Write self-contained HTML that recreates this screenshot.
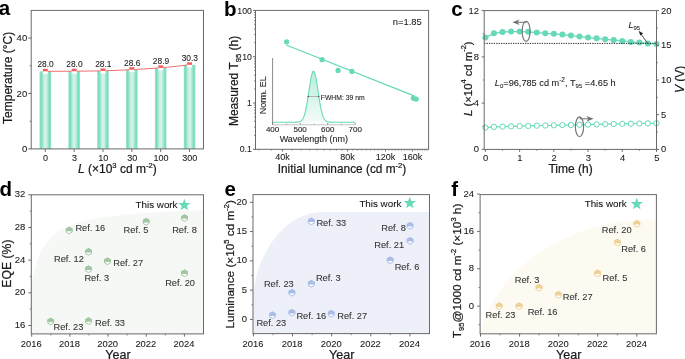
<!DOCTYPE html>
<html><head><meta charset="utf-8"><style>
html,body{margin:0;padding:0;background:#fff;}
svg{display:block;font-family:"Liberation Sans", sans-serif;will-change:transform;}
</style></head><body>
<svg width="685" height="359" viewBox="0 0 685 359">
<rect width="685" height="359" fill="#fff"/>
<defs>
<linearGradient id="barg" x1="0" x2="1" y1="0" y2="0">
<stop offset="0" stop-color="#9fe6d1"/><stop offset="0.13" stop-color="#72dcbb"/>
<stop offset="0.42" stop-color="#cff1e7"/><stop offset="0.58" stop-color="#d3f2ea"/><stop offset="0.88" stop-color="#72dcbb"/><stop offset="1" stop-color="#9fe6d1"/>
</linearGradient>
<linearGradient id="peakg" x1="0" x2="0" y1="0" y2="1">
<stop offset="0" stop-color="#b9ecdc"/><stop offset="1" stop-color="#f4fcf9"/>
</linearGradient>
</defs>
<rect x="39.50" y="71.34" width="11.6" height="77.56" fill="url(#barg)"/>
<rect x="68.35" y="71.20" width="11.6" height="77.70" fill="url(#barg)"/>
<rect x="97.20" y="70.92" width="11.6" height="77.98" fill="url(#barg)"/>
<rect x="126.05" y="69.68" width="11.6" height="79.22" fill="url(#barg)"/>
<rect x="154.90" y="67.88" width="11.6" height="81.02" fill="url(#barg)"/>
<rect x="183.75" y="64.83" width="11.6" height="84.07" fill="url(#barg)"/>
<polyline points="45.30,71.34 74.15,71.20 103.00,70.92 131.85,69.68 160.70,67.88 189.55,64.83" fill="none" stroke="#f07070" stroke-width="1"/>
<rect x="42.80" y="68.84" width="5" height="5" fill="#ffffff"/>
<rect x="42.80" y="68.84" width="5" height="2.5" fill="#f25c5c"/>
<text x="45.60" y="67.44" font-size="8.4" text-anchor="middle" fill="#222" stroke="#222" stroke-width="0.08" font-weight="normal" >28.0</text>
<rect x="71.65" y="68.70" width="5" height="5" fill="#ffffff"/>
<rect x="71.65" y="68.70" width="5" height="2.5" fill="#f25c5c"/>
<text x="74.45" y="67.30" font-size="8.4" text-anchor="middle" fill="#222" stroke="#222" stroke-width="0.08" font-weight="normal" >28.0</text>
<rect x="100.50" y="68.42" width="5" height="5" fill="#ffffff"/>
<rect x="100.50" y="68.42" width="5" height="2.5" fill="#f25c5c"/>
<text x="103.30" y="67.02" font-size="8.4" text-anchor="middle" fill="#222" stroke="#222" stroke-width="0.08" font-weight="normal" >28.1</text>
<rect x="129.35" y="67.18" width="5" height="5" fill="#ffffff"/>
<rect x="129.35" y="67.18" width="5" height="2.5" fill="#f25c5c"/>
<text x="132.15" y="65.78" font-size="8.4" text-anchor="middle" fill="#222" stroke="#222" stroke-width="0.08" font-weight="normal" >28.6</text>
<rect x="158.20" y="65.38" width="5" height="5" fill="#ffffff"/>
<rect x="158.20" y="65.38" width="5" height="2.5" fill="#f25c5c"/>
<text x="161.00" y="63.98" font-size="8.4" text-anchor="middle" fill="#222" stroke="#222" stroke-width="0.08" font-weight="normal" >28.9</text>
<rect x="187.05" y="62.33" width="5" height="5" fill="#ffffff"/>
<rect x="187.05" y="62.33" width="5" height="2.5" fill="#f25c5c"/>
<text x="189.85" y="60.93" font-size="8.4" text-anchor="middle" fill="#222" stroke="#222" stroke-width="0.08" font-weight="normal" >30.3</text>
<rect x="31.20" y="10.40" width="172.30" height="138.50" fill="none" stroke="#6a6a6a" stroke-width="1.0"/>
<line x1="31.20" y1="148.90" x2="28.20" y2="148.90" stroke="#6a6a6a" stroke-width="1.0" />
<line x1="31.20" y1="93.50" x2="28.20" y2="93.50" stroke="#6a6a6a" stroke-width="1.0" />
<line x1="31.20" y1="38.10" x2="28.20" y2="38.10" stroke="#6a6a6a" stroke-width="1.0" />
<line x1="31.20" y1="121.20" x2="29.70" y2="121.20" stroke="#6a6a6a" stroke-width="1.0" />
<line x1="31.20" y1="65.80" x2="29.70" y2="65.80" stroke="#6a6a6a" stroke-width="1.0" />
<line x1="45.30" y1="148.90" x2="45.30" y2="151.90" stroke="#6a6a6a" stroke-width="1.0" />
<line x1="74.15" y1="148.90" x2="74.15" y2="151.90" stroke="#6a6a6a" stroke-width="1.0" />
<line x1="103.00" y1="148.90" x2="103.00" y2="151.90" stroke="#6a6a6a" stroke-width="1.0" />
<line x1="131.85" y1="148.90" x2="131.85" y2="151.90" stroke="#6a6a6a" stroke-width="1.0" />
<line x1="160.70" y1="148.90" x2="160.70" y2="151.90" stroke="#6a6a6a" stroke-width="1.0" />
<line x1="189.55" y1="148.90" x2="189.55" y2="151.90" stroke="#6a6a6a" stroke-width="1.0" />
<text x="27.20" y="152.00" font-size="9.5" text-anchor="end" fill="#1a1a1a" stroke="#1a1a1a" stroke-width="0.08" font-weight="normal" >0</text>
<text x="27.20" y="96.60" font-size="9.5" text-anchor="end" fill="#1a1a1a" stroke="#1a1a1a" stroke-width="0.08" font-weight="normal" >20</text>
<text x="27.20" y="41.20" font-size="9.5" text-anchor="end" fill="#1a1a1a" stroke="#1a1a1a" stroke-width="0.08" font-weight="normal" >40</text>
<text x="45.60" y="161.00" font-size="9" text-anchor="middle" fill="#1a1a1a" stroke="#1a1a1a" stroke-width="0.08" font-weight="normal" >0</text>
<text x="74.45" y="161.00" font-size="9" text-anchor="middle" fill="#1a1a1a" stroke="#1a1a1a" stroke-width="0.08" font-weight="normal" >3</text>
<text x="103.30" y="161.00" font-size="9" text-anchor="middle" fill="#1a1a1a" stroke="#1a1a1a" stroke-width="0.08" font-weight="normal" >10</text>
<text x="132.15" y="161.00" font-size="9" text-anchor="middle" fill="#1a1a1a" stroke="#1a1a1a" stroke-width="0.08" font-weight="normal" >30</text>
<text x="161.00" y="161.00" font-size="9" text-anchor="middle" fill="#1a1a1a" stroke="#1a1a1a" stroke-width="0.08" font-weight="normal" >100</text>
<text x="189.85" y="161.00" font-size="9" text-anchor="middle" fill="#1a1a1a" stroke="#1a1a1a" stroke-width="0.08" font-weight="normal" >300</text>
<text x="12.20" y="77.85" font-size="12" text-anchor="middle" fill="#1a1a1a" stroke="#1a1a1a" stroke-width="0.22" font-weight="normal" transform="rotate(-90 12.2 77.85)">Temperature (°C)</text>
<text x="117.30" y="172.60" font-size="12" text-anchor="middle" fill="#1a1a1a" stroke="#1a1a1a" stroke-width="0.22" font-weight="normal" ><tspan font-style="italic">L</tspan> (×10<tspan font-size="7.6" dy="-5.0">3</tspan><tspan dy="5.0"> cd m</tspan><tspan font-size="7.6" dy="-5.0">-2</tspan><tspan dy="5.0">)</tspan></text>
<rect x="255.50" y="10.40" width="173.10" height="138.90" fill="none" stroke="#6a6a6a" stroke-width="1.0"/>
<line x1="255.50" y1="149.30" x2="253.00" y2="149.30" stroke="#6a6a6a" stroke-width="1.0" />
<line x1="255.50" y1="135.36" x2="254.00" y2="135.36" stroke="#6a6a6a" stroke-width="0.8" />
<line x1="255.50" y1="127.21" x2="254.00" y2="127.21" stroke="#6a6a6a" stroke-width="0.8" />
<line x1="255.50" y1="121.42" x2="254.00" y2="121.42" stroke="#6a6a6a" stroke-width="0.8" />
<line x1="255.50" y1="116.94" x2="254.00" y2="116.94" stroke="#6a6a6a" stroke-width="0.8" />
<line x1="255.50" y1="113.27" x2="254.00" y2="113.27" stroke="#6a6a6a" stroke-width="0.8" />
<line x1="255.50" y1="110.17" x2="254.00" y2="110.17" stroke="#6a6a6a" stroke-width="0.8" />
<line x1="255.50" y1="107.49" x2="254.00" y2="107.49" stroke="#6a6a6a" stroke-width="0.8" />
<line x1="255.50" y1="105.12" x2="254.00" y2="105.12" stroke="#6a6a6a" stroke-width="0.8" />
<line x1="255.50" y1="103.00" x2="253.00" y2="103.00" stroke="#6a6a6a" stroke-width="1.0" />
<line x1="255.50" y1="89.06" x2="254.00" y2="89.06" stroke="#6a6a6a" stroke-width="0.8" />
<line x1="255.50" y1="80.91" x2="254.00" y2="80.91" stroke="#6a6a6a" stroke-width="0.8" />
<line x1="255.50" y1="75.12" x2="254.00" y2="75.12" stroke="#6a6a6a" stroke-width="0.8" />
<line x1="255.50" y1="70.64" x2="254.00" y2="70.64" stroke="#6a6a6a" stroke-width="0.8" />
<line x1="255.50" y1="66.97" x2="254.00" y2="66.97" stroke="#6a6a6a" stroke-width="0.8" />
<line x1="255.50" y1="63.87" x2="254.00" y2="63.87" stroke="#6a6a6a" stroke-width="0.8" />
<line x1="255.50" y1="61.19" x2="254.00" y2="61.19" stroke="#6a6a6a" stroke-width="0.8" />
<line x1="255.50" y1="58.82" x2="254.00" y2="58.82" stroke="#6a6a6a" stroke-width="0.8" />
<line x1="255.50" y1="56.70" x2="253.00" y2="56.70" stroke="#6a6a6a" stroke-width="1.0" />
<line x1="255.50" y1="42.76" x2="254.00" y2="42.76" stroke="#6a6a6a" stroke-width="0.8" />
<line x1="255.50" y1="34.61" x2="254.00" y2="34.61" stroke="#6a6a6a" stroke-width="0.8" />
<line x1="255.50" y1="28.82" x2="254.00" y2="28.82" stroke="#6a6a6a" stroke-width="0.8" />
<line x1="255.50" y1="24.34" x2="254.00" y2="24.34" stroke="#6a6a6a" stroke-width="0.8" />
<line x1="255.50" y1="20.67" x2="254.00" y2="20.67" stroke="#6a6a6a" stroke-width="0.8" />
<line x1="255.50" y1="17.57" x2="254.00" y2="17.57" stroke="#6a6a6a" stroke-width="0.8" />
<line x1="255.50" y1="14.89" x2="254.00" y2="14.89" stroke="#6a6a6a" stroke-width="0.8" />
<line x1="255.50" y1="12.52" x2="254.00" y2="12.52" stroke="#6a6a6a" stroke-width="0.8" />
<line x1="255.50" y1="10.40" x2="253.00" y2="10.40" stroke="#6a6a6a" stroke-width="1.0" />
<text x="251.80" y="152.40" font-size="8.7" text-anchor="end" fill="#1a1a1a" stroke="#1a1a1a" stroke-width="0.08" font-weight="normal" >0.1</text>
<text x="251.80" y="106.10" font-size="8.7" text-anchor="end" fill="#1a1a1a" stroke="#1a1a1a" stroke-width="0.08" font-weight="normal" >1</text>
<text x="251.80" y="59.80" font-size="8.7" text-anchor="end" fill="#1a1a1a" stroke="#1a1a1a" stroke-width="0.08" font-weight="normal" >10</text>
<text x="251.80" y="13.50" font-size="8.7" text-anchor="end" fill="#1a1a1a" stroke="#1a1a1a" stroke-width="0.08" font-weight="normal" >100</text>
<line x1="258.82" y1="149.30" x2="258.82" y2="150.60" stroke="#6a6a6a" stroke-width="0.8" />
<line x1="271.35" y1="149.30" x2="271.35" y2="150.60" stroke="#6a6a6a" stroke-width="0.8" />
<line x1="292.28" y1="149.30" x2="292.28" y2="150.60" stroke="#6a6a6a" stroke-width="0.8" />
<line x1="301.22" y1="149.30" x2="301.22" y2="150.60" stroke="#6a6a6a" stroke-width="0.8" />
<line x1="309.39" y1="149.30" x2="309.39" y2="150.60" stroke="#6a6a6a" stroke-width="0.8" />
<line x1="316.90" y1="149.30" x2="316.90" y2="150.60" stroke="#6a6a6a" stroke-width="0.8" />
<line x1="323.85" y1="149.30" x2="323.85" y2="150.60" stroke="#6a6a6a" stroke-width="0.8" />
<line x1="330.32" y1="149.30" x2="330.32" y2="150.60" stroke="#6a6a6a" stroke-width="0.8" />
<line x1="336.37" y1="149.30" x2="336.37" y2="150.60" stroke="#6a6a6a" stroke-width="0.8" />
<line x1="342.06" y1="149.30" x2="342.06" y2="150.60" stroke="#6a6a6a" stroke-width="0.8" />
<line x1="352.49" y1="149.30" x2="352.49" y2="150.60" stroke="#6a6a6a" stroke-width="0.8" />
<line x1="357.31" y1="149.30" x2="357.31" y2="150.60" stroke="#6a6a6a" stroke-width="0.8" />
<line x1="361.88" y1="149.30" x2="361.88" y2="150.60" stroke="#6a6a6a" stroke-width="0.8" />
<line x1="366.25" y1="149.30" x2="366.25" y2="150.60" stroke="#6a6a6a" stroke-width="0.8" />
<line x1="370.42" y1="149.30" x2="370.42" y2="150.60" stroke="#6a6a6a" stroke-width="0.8" />
<line x1="374.41" y1="149.30" x2="374.41" y2="150.60" stroke="#6a6a6a" stroke-width="0.8" />
<line x1="378.24" y1="149.30" x2="378.24" y2="150.60" stroke="#6a6a6a" stroke-width="0.8" />
<line x1="381.92" y1="149.30" x2="381.92" y2="150.60" stroke="#6a6a6a" stroke-width="0.8" />
<line x1="388.87" y1="149.30" x2="388.87" y2="150.60" stroke="#6a6a6a" stroke-width="0.8" />
<line x1="392.16" y1="149.30" x2="392.16" y2="150.60" stroke="#6a6a6a" stroke-width="0.8" />
<line x1="395.34" y1="149.30" x2="395.34" y2="150.60" stroke="#6a6a6a" stroke-width="0.8" />
<line x1="398.42" y1="149.30" x2="398.42" y2="150.60" stroke="#6a6a6a" stroke-width="0.8" />
<line x1="401.40" y1="149.30" x2="401.40" y2="150.60" stroke="#6a6a6a" stroke-width="0.8" />
<line x1="404.28" y1="149.30" x2="404.28" y2="150.60" stroke="#6a6a6a" stroke-width="0.8" />
<line x1="407.08" y1="149.30" x2="407.08" y2="150.60" stroke="#6a6a6a" stroke-width="0.8" />
<line x1="409.80" y1="149.30" x2="409.80" y2="150.60" stroke="#6a6a6a" stroke-width="0.8" />
<line x1="415.02" y1="149.30" x2="415.02" y2="150.60" stroke="#6a6a6a" stroke-width="0.8" />
<line x1="417.52" y1="149.30" x2="417.52" y2="150.60" stroke="#6a6a6a" stroke-width="0.8" />
<line x1="419.95" y1="149.30" x2="419.95" y2="150.60" stroke="#6a6a6a" stroke-width="0.8" />
<line x1="422.33" y1="149.30" x2="422.33" y2="150.60" stroke="#6a6a6a" stroke-width="0.8" />
<line x1="424.64" y1="149.30" x2="424.64" y2="150.60" stroke="#6a6a6a" stroke-width="0.8" />
<line x1="426.91" y1="149.30" x2="426.91" y2="150.60" stroke="#6a6a6a" stroke-width="0.8" />
<line x1="282.40" y1="149.30" x2="282.40" y2="151.50" stroke="#6a6a6a" stroke-width="1.0" />
<text x="282.40" y="159.70" font-size="9" text-anchor="middle" fill="#1a1a1a" stroke="#1a1a1a" stroke-width="0.08" font-weight="normal" >40k</text>
<line x1="347.42" y1="149.30" x2="347.42" y2="151.50" stroke="#6a6a6a" stroke-width="1.0" />
<text x="347.42" y="159.70" font-size="9" text-anchor="middle" fill="#1a1a1a" stroke="#1a1a1a" stroke-width="0.08" font-weight="normal" >80k</text>
<line x1="385.46" y1="149.30" x2="385.46" y2="151.50" stroke="#6a6a6a" stroke-width="1.0" />
<text x="385.46" y="159.70" font-size="9" text-anchor="middle" fill="#1a1a1a" stroke="#1a1a1a" stroke-width="0.08" font-weight="normal" >120k</text>
<line x1="412.44" y1="149.30" x2="412.44" y2="151.50" stroke="#6a6a6a" stroke-width="1.0" />
<text x="412.44" y="159.70" font-size="9" text-anchor="middle" fill="#1a1a1a" stroke="#1a1a1a" stroke-width="0.08" font-weight="normal" >160k</text>
<text x="238.20" y="80.95" font-size="12" text-anchor="middle" fill="#1a1a1a" stroke="#1a1a1a" stroke-width="0.22" font-weight="normal" transform="rotate(-90 238.2 80.95)">Measured T<tspan font-size="7.6" dy="2.5">95</tspan><tspan dy="-2.5"> (h)</tspan></text>
<text x="342.00" y="172.90" font-size="11.85" text-anchor="middle" fill="#1a1a1a" stroke="#1a1a1a" stroke-width="0.22" font-weight="normal" >Initial luminance (cd m<tspan font-size="7.6" dy="-5.0">-2</tspan><tspan dy="5.0">)</tspan></text>
<text x="421.80" y="24.50" font-size="9.4" text-anchor="end" fill="#1a1a1a" stroke="#1a1a1a" stroke-width="0.08" font-weight="normal" >n=1.85</text>
<line x1="286.20" y1="45.00" x2="414.10" y2="95.90" stroke="#66d9b8" stroke-width="1.3" />
<circle cx="286.6" cy="41.8" r="2.6" fill="#66d9b8"/>
<circle cx="322.1" cy="59.7" r="2.6" fill="#66d9b8"/>
<circle cx="338.1" cy="70.4" r="2.6" fill="#66d9b8"/>
<circle cx="351.9" cy="71.4" r="2.6" fill="#66d9b8"/>
<circle cx="413.4" cy="98.2" r="2.6" fill="#66d9b8"/>
<circle cx="416.2" cy="99.1" r="2.6" fill="#66d9b8"/>
<path d="M272.60,122.20 L272.88,122.20 L273.15,122.20 L273.43,122.20 L273.70,122.20 L273.98,122.20 L274.25,122.20 L274.53,122.20 L274.80,122.20 L275.08,122.20 L275.35,122.20 L275.63,122.20 L275.90,122.20 L276.18,122.20 L276.45,122.20 L276.73,122.20 L277.01,122.20 L277.28,122.20 L277.56,122.20 L277.83,122.20 L278.11,122.20 L278.38,122.20 L278.66,122.20 L278.93,122.20 L279.21,122.20 L279.48,122.20 L279.76,122.20 L280.03,122.20 L280.31,122.20 L280.58,122.20 L280.86,122.20 L281.14,122.20 L281.41,122.20 L281.69,122.20 L281.96,122.20 L282.24,122.20 L282.51,122.20 L282.79,122.20 L283.06,122.20 L283.34,122.20 L283.61,122.20 L283.89,122.20 L284.16,122.20 L284.44,122.20 L284.71,122.20 L284.99,122.20 L285.27,122.20 L285.54,122.20 L285.82,122.20 L286.09,122.20 L286.37,122.20 L286.64,122.20 L286.92,122.20 L287.19,122.20 L287.47,122.20 L287.74,122.20 L288.02,122.20 L288.29,122.20 L288.57,122.20 L288.84,122.20 L289.12,122.20 L289.40,122.20 L289.67,122.20 L289.95,122.20 L290.22,122.20 L290.50,122.20 L290.77,122.20 L291.05,122.20 L291.32,122.20 L291.60,122.20 L291.87,122.20 L292.15,122.20 L292.42,122.20 L292.70,122.20 L292.97,122.20 L293.25,122.20 L293.53,122.20 L293.80,122.19 L294.08,122.19 L294.35,122.19 L294.63,122.19 L294.90,122.19 L295.18,122.18 L295.45,122.18 L295.73,122.17 L296.00,122.16 L296.28,122.15 L296.55,122.14 L296.83,122.13 L297.10,122.11 L297.38,122.09 L297.66,122.06 L297.93,122.03 L298.21,122.00 L298.48,121.95 L298.76,121.90 L299.03,121.83 L299.31,121.76 L299.58,121.67 L299.86,121.57 L300.13,121.45 L300.41,121.31 L300.68,121.14 L300.96,120.95 L301.23,120.73 L301.51,120.48 L301.79,120.20 L302.06,119.87 L302.34,119.50 L302.61,119.09 L302.89,118.62 L303.16,118.10 L303.44,117.52 L303.71,116.88 L303.99,116.16 L304.26,115.38 L304.54,114.53 L304.81,113.59 L305.09,112.58 L305.36,111.49 L305.64,110.32 L305.92,109.07 L306.19,107.73 L306.47,106.32 L306.74,104.83 L307.02,103.27 L307.29,101.65 L307.57,99.96 L307.84,98.22 L308.12,96.44 L308.39,94.63 L308.67,92.79 L308.94,90.95 L309.22,89.10 L309.49,87.27 L309.77,85.48 L310.05,83.73 L310.32,82.04 L310.60,80.42 L310.87,78.90 L311.15,77.48 L311.42,76.18 L311.70,75.01 L311.97,73.98 L312.25,73.11 L312.52,72.40 L312.80,71.87 L313.07,71.50 L313.35,71.32 L313.62,71.32 L313.90,71.50 L314.18,71.87 L314.45,72.40 L314.73,73.11 L315.00,73.98 L315.28,75.01 L315.55,76.18 L315.83,77.48 L316.10,78.90 L316.38,80.42 L316.65,82.04 L316.93,83.73 L317.20,85.48 L317.48,87.27 L317.75,89.10 L318.03,90.95 L318.31,92.79 L318.58,94.63 L318.86,96.44 L319.13,98.22 L319.41,99.96 L319.68,101.65 L319.96,103.27 L320.23,104.83 L320.51,106.32 L320.78,107.73 L321.06,109.07 L321.33,110.32 L321.61,111.49 L321.88,112.58 L322.16,113.59 L322.44,114.53 L322.71,115.38 L322.99,116.16 L323.26,116.88 L323.54,117.52 L323.81,118.10 L324.09,118.62 L324.36,119.09 L324.64,119.50 L324.91,119.87 L325.19,120.20 L325.46,120.48 L325.74,120.73 L326.01,120.95 L326.29,121.14 L326.57,121.31 L326.84,121.45 L327.12,121.57 L327.39,121.67 L327.67,121.76 L327.94,121.83 L328.22,121.90 L328.49,121.95 L328.77,122.00 L329.04,122.03 L329.32,122.06 L329.59,122.09 L329.87,122.11 L330.14,122.13 L330.42,122.14 L330.70,122.15 L330.97,122.16 L331.25,122.17 L331.52,122.18 L331.80,122.18 L332.07,122.19 L332.35,122.19 L332.62,122.19 L332.90,122.19 L333.17,122.19 L333.45,122.20 L333.72,122.20 L334.00,122.20 L334.27,122.20 L334.55,122.20 L334.83,122.20 L335.10,122.20 L335.38,122.20 L335.65,122.20 L335.93,122.20 L336.20,122.20 L336.48,122.20 L336.75,122.20 L337.03,122.20 L337.30,122.20 L337.58,122.20 L337.85,122.20 L338.13,122.20 L338.40,122.20 L338.68,122.20 L338.96,122.20 L339.23,122.20 L339.51,122.20 L339.78,122.20 L340.06,122.20 L340.33,122.20 L340.61,122.20 L340.88,122.20 L341.16,122.20 L341.43,122.20 L341.71,122.20 L341.98,122.20 L342.26,122.20 L342.53,122.20 L342.81,122.20 L343.09,122.20 L343.36,122.20 L343.64,122.20 L343.91,122.20 L344.19,122.20 L344.46,122.20 L344.74,122.20 L345.01,122.20 L345.29,122.20 L345.56,122.20 L345.84,122.20 L346.11,122.20 L346.39,122.20 L346.66,122.20 L346.94,122.20 L347.22,122.20 L347.49,122.20 L347.77,122.20 L348.04,122.20 L348.32,122.20 L348.59,122.20 L348.87,122.20 L349.14,122.20 L349.42,122.20 L349.69,122.20 L349.97,122.20 L350.24,122.20 L350.52,122.20 L350.79,122.20 L351.07,122.20 L351.35,122.20 L351.62,122.20 L351.90,122.20 L352.17,122.20 L352.45,122.20 L352.72,122.20 L353.00,122.20 L353.27,122.20 L353.55,122.20 L353.82,122.20 L354.10,122.20 L354.37,122.20 L354.65,122.20 L354.92,122.20 L355.20,122.20 L355.20,122.2 L272.60,122.2 Z" fill="url(#peakg)" stroke="none"/>
<polyline points="272.60,122.20 272.88,122.20 273.15,122.20 273.43,122.20 273.70,122.20 273.98,122.20 274.25,122.20 274.53,122.20 274.80,122.20 275.08,122.20 275.35,122.20 275.63,122.20 275.90,122.20 276.18,122.20 276.45,122.20 276.73,122.20 277.01,122.20 277.28,122.20 277.56,122.20 277.83,122.20 278.11,122.20 278.38,122.20 278.66,122.20 278.93,122.20 279.21,122.20 279.48,122.20 279.76,122.20 280.03,122.20 280.31,122.20 280.58,122.20 280.86,122.20 281.14,122.20 281.41,122.20 281.69,122.20 281.96,122.20 282.24,122.20 282.51,122.20 282.79,122.20 283.06,122.20 283.34,122.20 283.61,122.20 283.89,122.20 284.16,122.20 284.44,122.20 284.71,122.20 284.99,122.20 285.27,122.20 285.54,122.20 285.82,122.20 286.09,122.20 286.37,122.20 286.64,122.20 286.92,122.20 287.19,122.20 287.47,122.20 287.74,122.20 288.02,122.20 288.29,122.20 288.57,122.20 288.84,122.20 289.12,122.20 289.40,122.20 289.67,122.20 289.95,122.20 290.22,122.20 290.50,122.20 290.77,122.20 291.05,122.20 291.32,122.20 291.60,122.20 291.87,122.20 292.15,122.20 292.42,122.20 292.70,122.20 292.97,122.20 293.25,122.20 293.53,122.20 293.80,122.19 294.08,122.19 294.35,122.19 294.63,122.19 294.90,122.19 295.18,122.18 295.45,122.18 295.73,122.17 296.00,122.16 296.28,122.15 296.55,122.14 296.83,122.13 297.10,122.11 297.38,122.09 297.66,122.06 297.93,122.03 298.21,122.00 298.48,121.95 298.76,121.90 299.03,121.83 299.31,121.76 299.58,121.67 299.86,121.57 300.13,121.45 300.41,121.31 300.68,121.14 300.96,120.95 301.23,120.73 301.51,120.48 301.79,120.20 302.06,119.87 302.34,119.50 302.61,119.09 302.89,118.62 303.16,118.10 303.44,117.52 303.71,116.88 303.99,116.16 304.26,115.38 304.54,114.53 304.81,113.59 305.09,112.58 305.36,111.49 305.64,110.32 305.92,109.07 306.19,107.73 306.47,106.32 306.74,104.83 307.02,103.27 307.29,101.65 307.57,99.96 307.84,98.22 308.12,96.44 308.39,94.63 308.67,92.79 308.94,90.95 309.22,89.10 309.49,87.27 309.77,85.48 310.05,83.73 310.32,82.04 310.60,80.42 310.87,78.90 311.15,77.48 311.42,76.18 311.70,75.01 311.97,73.98 312.25,73.11 312.52,72.40 312.80,71.87 313.07,71.50 313.35,71.32 313.62,71.32 313.90,71.50 314.18,71.87 314.45,72.40 314.73,73.11 315.00,73.98 315.28,75.01 315.55,76.18 315.83,77.48 316.10,78.90 316.38,80.42 316.65,82.04 316.93,83.73 317.20,85.48 317.48,87.27 317.75,89.10 318.03,90.95 318.31,92.79 318.58,94.63 318.86,96.44 319.13,98.22 319.41,99.96 319.68,101.65 319.96,103.27 320.23,104.83 320.51,106.32 320.78,107.73 321.06,109.07 321.33,110.32 321.61,111.49 321.88,112.58 322.16,113.59 322.44,114.53 322.71,115.38 322.99,116.16 323.26,116.88 323.54,117.52 323.81,118.10 324.09,118.62 324.36,119.09 324.64,119.50 324.91,119.87 325.19,120.20 325.46,120.48 325.74,120.73 326.01,120.95 326.29,121.14 326.57,121.31 326.84,121.45 327.12,121.57 327.39,121.67 327.67,121.76 327.94,121.83 328.22,121.90 328.49,121.95 328.77,122.00 329.04,122.03 329.32,122.06 329.59,122.09 329.87,122.11 330.14,122.13 330.42,122.14 330.70,122.15 330.97,122.16 331.25,122.17 331.52,122.18 331.80,122.18 332.07,122.19 332.35,122.19 332.62,122.19 332.90,122.19 333.17,122.19 333.45,122.20 333.72,122.20 334.00,122.20 334.27,122.20 334.55,122.20 334.83,122.20 335.10,122.20 335.38,122.20 335.65,122.20 335.93,122.20 336.20,122.20 336.48,122.20 336.75,122.20 337.03,122.20 337.30,122.20 337.58,122.20 337.85,122.20 338.13,122.20 338.40,122.20 338.68,122.20 338.96,122.20 339.23,122.20 339.51,122.20 339.78,122.20 340.06,122.20 340.33,122.20 340.61,122.20 340.88,122.20 341.16,122.20 341.43,122.20 341.71,122.20 341.98,122.20 342.26,122.20 342.53,122.20 342.81,122.20 343.09,122.20 343.36,122.20 343.64,122.20 343.91,122.20 344.19,122.20 344.46,122.20 344.74,122.20 345.01,122.20 345.29,122.20 345.56,122.20 345.84,122.20 346.11,122.20 346.39,122.20 346.66,122.20 346.94,122.20 347.22,122.20 347.49,122.20 347.77,122.20 348.04,122.20 348.32,122.20 348.59,122.20 348.87,122.20 349.14,122.20 349.42,122.20 349.69,122.20 349.97,122.20 350.24,122.20 350.52,122.20 350.79,122.20 351.07,122.20 351.35,122.20 351.62,122.20 351.90,122.20 352.17,122.20 352.45,122.20 352.72,122.20 353.00,122.20 353.27,122.20 353.55,122.20 353.82,122.20 354.10,122.20 354.37,122.20 354.65,122.20 354.92,122.20 355.20,122.20" fill="none" stroke="#66d9b8" stroke-width="1.1"/>
<line x1="272.60" y1="58.00" x2="272.60" y2="124.90" stroke="#8a8a8a" stroke-width="1.0" />
<line x1="272.60" y1="124.80" x2="355.20" y2="124.80" stroke="#c4c4c4" stroke-width="1.0" />
<line x1="272.60" y1="124.50" x2="272.60" y2="123.00" stroke="#6a6a6a" stroke-width="0.8" />
<text x="272.60" y="131.90" font-size="8" text-anchor="middle" fill="#1a1a1a" stroke="#1a1a1a" stroke-width="0.08" font-weight="normal" >400</text>
<line x1="300.13" y1="124.50" x2="300.13" y2="123.00" stroke="#6a6a6a" stroke-width="0.8" />
<text x="300.13" y="131.90" font-size="8" text-anchor="middle" fill="#1a1a1a" stroke="#1a1a1a" stroke-width="0.08" font-weight="normal" >500</text>
<line x1="327.67" y1="124.50" x2="327.67" y2="123.00" stroke="#6a6a6a" stroke-width="0.8" />
<text x="327.67" y="131.90" font-size="8" text-anchor="middle" fill="#1a1a1a" stroke="#1a1a1a" stroke-width="0.08" font-weight="normal" >600</text>
<line x1="355.20" y1="124.50" x2="355.20" y2="123.00" stroke="#6a6a6a" stroke-width="0.8" />
<text x="355.20" y="131.90" font-size="8" text-anchor="middle" fill="#1a1a1a" stroke="#1a1a1a" stroke-width="0.08" font-weight="normal" >700</text>
<line x1="286.37" y1="124.50" x2="286.37" y2="123.50" stroke="#6a6a6a" stroke-width="0.6" />
<line x1="313.90" y1="124.50" x2="313.90" y2="123.50" stroke="#6a6a6a" stroke-width="0.6" />
<line x1="341.43" y1="124.50" x2="341.43" y2="123.50" stroke="#6a6a6a" stroke-width="0.6" />
<text x="313.80" y="142.00" font-size="9" text-anchor="middle" fill="#1a1a1a" stroke="#1a1a1a" stroke-width="0.08" font-weight="normal" >Wavelength (nm)</text>
<text x="266.20" y="95.30" font-size="9" text-anchor="middle" fill="#1a1a1a" stroke="#1a1a1a" stroke-width="0.08" font-weight="normal" transform="rotate(-90 266.2 95.3)">Norm. EL</text>
<line x1="308.00" y1="96.50" x2="318.90" y2="96.50" stroke="#8a8a8a" stroke-width="0.6" />
<circle cx="308.3" cy="96.5" r="0.8" fill="#555"/><circle cx="318.6" cy="96.5" r="0.8" fill="#555"/>
<text x="320.80" y="99.80" font-size="6.8" text-anchor="start" fill="#222" stroke="#222" stroke-width="0.08" font-weight="normal" >FWHM: 39 nm</text>
<polyline points="485.40,37.60 493.95,33.30 502.51,32.10 511.06,31.60 519.62,31.60 528.17,31.80 536.73,32.60 545.28,33.30 553.84,33.80 562.39,34.60 570.95,35.60 579.50,36.60 588.06,37.60 596.62,38.30 605.17,39.30 613.73,40.10 622.28,40.90 630.84,41.90 639.39,42.60 647.94,43.40 656.50,44.10" fill="none" stroke="#66d9b8" stroke-width="1.3"/>
<polyline points="485.40,127.60 493.95,126.90 502.51,126.60 511.06,126.30 519.62,126.10 528.17,125.90 536.73,125.70 545.28,125.50 553.84,125.30 562.39,125.10 570.95,125.00 579.50,124.80 588.06,124.60 596.62,124.40 605.17,124.20 613.73,124.00 622.28,123.80 630.84,123.70 639.39,123.50 647.94,123.40 656.50,123.30" fill="none" stroke="#66d9b8" stroke-width="1.2"/>
<circle cx="485.40" cy="37.60" r="3.0" fill="#66d9b8"/>
<circle cx="493.95" cy="33.30" r="3.0" fill="#66d9b8"/>
<circle cx="502.51" cy="32.10" r="3.0" fill="#66d9b8"/>
<circle cx="511.06" cy="31.60" r="3.0" fill="#66d9b8"/>
<circle cx="519.62" cy="31.60" r="3.0" fill="#66d9b8"/>
<circle cx="528.17" cy="31.80" r="3.0" fill="#66d9b8"/>
<circle cx="536.73" cy="32.60" r="3.0" fill="#66d9b8"/>
<circle cx="545.28" cy="33.30" r="3.0" fill="#66d9b8"/>
<circle cx="553.84" cy="33.80" r="3.0" fill="#66d9b8"/>
<circle cx="562.39" cy="34.60" r="3.0" fill="#66d9b8"/>
<circle cx="570.95" cy="35.60" r="3.0" fill="#66d9b8"/>
<circle cx="579.50" cy="36.60" r="3.0" fill="#66d9b8"/>
<circle cx="588.06" cy="37.60" r="3.0" fill="#66d9b8"/>
<circle cx="596.62" cy="38.30" r="3.0" fill="#66d9b8"/>
<circle cx="605.17" cy="39.30" r="3.0" fill="#66d9b8"/>
<circle cx="613.73" cy="40.10" r="3.0" fill="#66d9b8"/>
<circle cx="622.28" cy="40.90" r="3.0" fill="#66d9b8"/>
<circle cx="630.84" cy="41.90" r="3.0" fill="#66d9b8"/>
<circle cx="639.39" cy="42.60" r="3.0" fill="#66d9b8"/>
<circle cx="647.94" cy="43.40" r="3.0" fill="#66d9b8"/>
<circle cx="656.50" cy="44.10" r="3.0" fill="#66d9b8"/>
<circle cx="485.40" cy="127.60" r="2.65" fill="#fff" stroke="#66d9b8" stroke-width="1.0"/>
<circle cx="493.95" cy="126.90" r="2.65" fill="#fff" stroke="#66d9b8" stroke-width="1.0"/>
<circle cx="502.51" cy="126.60" r="2.65" fill="#fff" stroke="#66d9b8" stroke-width="1.0"/>
<circle cx="511.06" cy="126.30" r="2.65" fill="#fff" stroke="#66d9b8" stroke-width="1.0"/>
<circle cx="519.62" cy="126.10" r="2.65" fill="#fff" stroke="#66d9b8" stroke-width="1.0"/>
<circle cx="528.17" cy="125.90" r="2.65" fill="#fff" stroke="#66d9b8" stroke-width="1.0"/>
<circle cx="536.73" cy="125.70" r="2.65" fill="#fff" stroke="#66d9b8" stroke-width="1.0"/>
<circle cx="545.28" cy="125.50" r="2.65" fill="#fff" stroke="#66d9b8" stroke-width="1.0"/>
<circle cx="553.84" cy="125.30" r="2.65" fill="#fff" stroke="#66d9b8" stroke-width="1.0"/>
<circle cx="562.39" cy="125.10" r="2.65" fill="#fff" stroke="#66d9b8" stroke-width="1.0"/>
<circle cx="570.95" cy="125.00" r="2.65" fill="#fff" stroke="#66d9b8" stroke-width="1.0"/>
<circle cx="579.50" cy="124.80" r="2.65" fill="#fff" stroke="#66d9b8" stroke-width="1.0"/>
<circle cx="588.06" cy="124.60" r="2.65" fill="#fff" stroke="#66d9b8" stroke-width="1.0"/>
<circle cx="596.62" cy="124.40" r="2.65" fill="#fff" stroke="#66d9b8" stroke-width="1.0"/>
<circle cx="605.17" cy="124.20" r="2.65" fill="#fff" stroke="#66d9b8" stroke-width="1.0"/>
<circle cx="613.73" cy="124.00" r="2.65" fill="#fff" stroke="#66d9b8" stroke-width="1.0"/>
<circle cx="622.28" cy="123.80" r="2.65" fill="#fff" stroke="#66d9b8" stroke-width="1.0"/>
<circle cx="630.84" cy="123.70" r="2.65" fill="#fff" stroke="#66d9b8" stroke-width="1.0"/>
<circle cx="639.39" cy="123.50" r="2.65" fill="#fff" stroke="#66d9b8" stroke-width="1.0"/>
<circle cx="647.94" cy="123.40" r="2.65" fill="#fff" stroke="#66d9b8" stroke-width="1.0"/>
<circle cx="656.50" cy="123.30" r="2.65" fill="#fff" stroke="#66d9b8" stroke-width="1.0"/>
<line x1="484.2" y1="43.4" x2="656.5" y2="43.4" stroke="#2a2a2a" stroke-width="1.0" stroke-dasharray="1.3,1.1"/>
<rect x="484.20" y="10.60" width="172.30" height="138.80" fill="none" stroke="#6a6a6a" stroke-width="1.0"/>
<line x1="484.20" y1="149.40" x2="481.70" y2="149.40" stroke="#6a6a6a" stroke-width="1.0" />
<text x="478.90" y="152.30" font-size="9.4" text-anchor="end" fill="#1a1a1a" stroke="#1a1a1a" stroke-width="0.08" font-weight="normal" >0</text>
<line x1="484.20" y1="103.13" x2="481.70" y2="103.13" stroke="#6a6a6a" stroke-width="1.0" />
<text x="478.90" y="106.03" font-size="9.4" text-anchor="end" fill="#1a1a1a" stroke="#1a1a1a" stroke-width="0.08" font-weight="normal" >4</text>
<line x1="484.20" y1="56.87" x2="481.70" y2="56.87" stroke="#6a6a6a" stroke-width="1.0" />
<text x="478.90" y="59.77" font-size="9.4" text-anchor="end" fill="#1a1a1a" stroke="#1a1a1a" stroke-width="0.08" font-weight="normal" >8</text>
<line x1="484.20" y1="10.60" x2="481.70" y2="10.60" stroke="#6a6a6a" stroke-width="1.0" />
<text x="478.90" y="13.50" font-size="9.4" text-anchor="end" fill="#1a1a1a" stroke="#1a1a1a" stroke-width="0.08" font-weight="normal" >12</text>
<line x1="484.20" y1="126.27" x2="482.70" y2="126.27" stroke="#6a6a6a" stroke-width="0.8" />
<line x1="484.20" y1="80.00" x2="482.70" y2="80.00" stroke="#6a6a6a" stroke-width="0.8" />
<line x1="484.20" y1="33.73" x2="482.70" y2="33.73" stroke="#6a6a6a" stroke-width="0.8" />
<line x1="656.50" y1="149.40" x2="659.00" y2="149.40" stroke="#6a6a6a" stroke-width="1.0" />
<text x="661.00" y="152.30" font-size="9.4" text-anchor="start" fill="#1a1a1a" stroke="#1a1a1a" stroke-width="0.08" font-weight="normal" >0</text>
<line x1="656.50" y1="114.70" x2="659.00" y2="114.70" stroke="#6a6a6a" stroke-width="1.0" />
<text x="661.00" y="117.60" font-size="9.4" text-anchor="start" fill="#1a1a1a" stroke="#1a1a1a" stroke-width="0.08" font-weight="normal" >5</text>
<line x1="656.50" y1="80.00" x2="659.00" y2="80.00" stroke="#6a6a6a" stroke-width="1.0" />
<text x="661.00" y="82.90" font-size="9.4" text-anchor="start" fill="#1a1a1a" stroke="#1a1a1a" stroke-width="0.08" font-weight="normal" >10</text>
<line x1="656.50" y1="45.30" x2="659.00" y2="45.30" stroke="#6a6a6a" stroke-width="1.0" />
<text x="661.00" y="48.20" font-size="9.4" text-anchor="start" fill="#1a1a1a" stroke="#1a1a1a" stroke-width="0.08" font-weight="normal" >15</text>
<line x1="656.50" y1="10.60" x2="659.00" y2="10.60" stroke="#6a6a6a" stroke-width="1.0" />
<text x="661.00" y="13.50" font-size="9.4" text-anchor="start" fill="#1a1a1a" stroke="#1a1a1a" stroke-width="0.08" font-weight="normal" >20</text>
<line x1="656.50" y1="132.05" x2="658.00" y2="132.05" stroke="#6a6a6a" stroke-width="0.8" />
<line x1="656.50" y1="97.35" x2="658.00" y2="97.35" stroke="#6a6a6a" stroke-width="0.8" />
<line x1="656.50" y1="62.65" x2="658.00" y2="62.65" stroke="#6a6a6a" stroke-width="0.8" />
<line x1="656.50" y1="27.95" x2="658.00" y2="27.95" stroke="#6a6a6a" stroke-width="0.8" />
<line x1="485.40" y1="149.40" x2="485.40" y2="151.90" stroke="#6a6a6a" stroke-width="1.0" />
<text x="485.70" y="161.20" font-size="9.4" text-anchor="middle" fill="#1a1a1a" stroke="#1a1a1a" stroke-width="0.08" font-weight="normal" >0</text>
<line x1="519.62" y1="149.40" x2="519.62" y2="151.90" stroke="#6a6a6a" stroke-width="1.0" />
<text x="519.92" y="161.20" font-size="9.4" text-anchor="middle" fill="#1a1a1a" stroke="#1a1a1a" stroke-width="0.08" font-weight="normal" >1</text>
<line x1="553.84" y1="149.40" x2="553.84" y2="151.90" stroke="#6a6a6a" stroke-width="1.0" />
<text x="554.14" y="161.20" font-size="9.4" text-anchor="middle" fill="#1a1a1a" stroke="#1a1a1a" stroke-width="0.08" font-weight="normal" >2</text>
<line x1="588.06" y1="149.40" x2="588.06" y2="151.90" stroke="#6a6a6a" stroke-width="1.0" />
<text x="588.36" y="161.20" font-size="9.4" text-anchor="middle" fill="#1a1a1a" stroke="#1a1a1a" stroke-width="0.08" font-weight="normal" >3</text>
<line x1="622.28" y1="149.40" x2="622.28" y2="151.90" stroke="#6a6a6a" stroke-width="1.0" />
<text x="622.58" y="161.20" font-size="9.4" text-anchor="middle" fill="#1a1a1a" stroke="#1a1a1a" stroke-width="0.08" font-weight="normal" >4</text>
<line x1="656.50" y1="149.40" x2="656.50" y2="151.90" stroke="#6a6a6a" stroke-width="1.0" />
<text x="656.80" y="161.20" font-size="9.4" text-anchor="middle" fill="#1a1a1a" stroke="#1a1a1a" stroke-width="0.08" font-weight="normal" >5</text>
<line x1="502.51" y1="149.40" x2="502.51" y2="150.80" stroke="#6a6a6a" stroke-width="0.8" />
<line x1="536.73" y1="149.40" x2="536.73" y2="150.80" stroke="#6a6a6a" stroke-width="0.8" />
<line x1="570.95" y1="149.40" x2="570.95" y2="150.80" stroke="#6a6a6a" stroke-width="0.8" />
<line x1="605.17" y1="149.40" x2="605.17" y2="150.80" stroke="#6a6a6a" stroke-width="0.8" />
<line x1="639.39" y1="149.40" x2="639.39" y2="150.80" stroke="#6a6a6a" stroke-width="0.8" />
<text x="570.60" y="172.60" font-size="12" text-anchor="middle" fill="#1a1a1a" stroke="#1a1a1a" stroke-width="0.22" font-weight="normal" >Time (h)</text>
<text x="471.80" y="78.70" font-size="11.3" text-anchor="middle" fill="#1a1a1a" stroke="#1a1a1a" stroke-width="0.22" font-weight="normal" transform="rotate(-90 471.8 78.7)"><tspan font-style="italic">L</tspan> (×10<tspan font-size="7.4" dy="-5.6">4</tspan><tspan dy="5.6"> cd m</tspan><tspan font-size="7.4" dy="-5.6">-2</tspan><tspan dy="5.6">)</tspan></text>
<text x="683.60" y="79.30" font-size="12" text-anchor="middle" fill="#1a1a1a" stroke="#1a1a1a" stroke-width="0.22" font-weight="normal" transform="rotate(-90 683.6 79.3)"><tspan font-style="italic">V</tspan> (V)</text>
<text x="494.80" y="85.60" font-size="9.2" text-anchor="start" fill="#1a1a1a" stroke="#1a1a1a" stroke-width="0.08" font-weight="normal" ><tspan font-style="italic">L</tspan><tspan font-size="6" dy="2.4">0</tspan><tspan dy="-2.4">=96,785 cd m</tspan><tspan font-size="6.5" dy="-3.5">-2</tspan><tspan dy="3.5">, T</tspan><tspan font-size="6" dy="2.4">95</tspan><tspan dy="-2.4"> =4.65 h</tspan></text>
<ellipse cx="526.1" cy="31.3" rx="4.0" ry="10.1" fill="none" stroke="#707070" stroke-width="1.1"/>
<line x1="526.4" y1="22.3" x2="516" y2="22.3" stroke="#707070" stroke-width="1"/><path d="M512.4,22.3 L519.5,19.6 L517.6,22.3 L519.5,25.0 Z" fill="#707070"/>
<ellipse cx="579.5" cy="126.8" rx="4.1" ry="9.9" fill="none" stroke="#707070" stroke-width="1.1"/>
<line x1="579.5" y1="118.8" x2="590" y2="118.8" stroke="#707070" stroke-width="1"/><path d="M593.6,118.8 L586.5,116.1 L588.4,118.8 L586.5,121.5 Z" fill="#707070"/>
<text x="628.50" y="27.80" font-size="9" text-anchor="start" fill="#1a1a1a" stroke="#1a1a1a" stroke-width="0.08" font-weight="normal" ><tspan font-style="italic">L</tspan><tspan font-size="6" dy="2.4">95</tspan></text>
<line x1="647.5" y1="43.2" x2="640.5" y2="33.5" stroke="#222" stroke-width="0.8"/><path d="M638.6,30.8 L643.2,33.6 L640.4,35.6 Z" fill="#222"/>
<path d="M31.30,284.66 L31.33,284.48 L31.41,284.05 L31.53,283.39 L31.68,282.56 L31.86,281.55 L32.08,280.41 L32.33,279.14 L32.62,277.77 L32.93,276.31 L33.27,274.78 L33.63,273.20 L34.03,271.57 L34.45,269.91 L34.90,268.24 L35.38,266.56 L35.88,264.87 L36.41,263.20 L36.96,261.54 L37.54,259.91 L38.14,258.30 L38.77,256.72 L39.43,255.17 L40.10,253.66 L40.80,252.19 L41.53,250.76 L42.28,249.37 L43.05,248.02 L43.84,246.71 L44.66,245.44 L45.50,244.21 L46.36,243.02 L47.25,241.88 L48.16,240.77 L49.09,239.70 L50.04,238.67 L51.02,237.68 L52.01,236.72 L53.03,235.79 L54.07,234.90 L55.13,234.04 L56.22,233.21 L57.32,232.41 L58.45,231.64 L59.60,230.89 L60.76,230.18 L61.95,229.49 L63.16,228.82 L64.39,228.18 L65.64,227.56 L66.92,226.96 L68.21,226.38 L69.52,225.83 L70.86,225.29 L72.21,224.77 L73.58,224.27 L74.98,223.78 L76.39,223.32 L77.82,222.86 L79.28,222.43 L80.75,222.00 L82.24,221.59 L83.76,221.20 L85.29,220.82 L86.84,220.45 L88.42,220.09 L90.01,219.74 L91.62,219.40 L93.25,219.08 L94.90,218.76 L96.57,218.46 L98.25,218.16 L99.96,217.87 L101.69,217.59 L103.43,217.32 L105.20,217.06 L106.98,216.80 L108.78,216.55 L110.60,216.31 L112.44,216.08 L114.30,215.85 L116.18,215.63 L118.07,215.42 L119.98,215.21 L121.92,215.00 L123.87,214.81 L125.84,214.62 L127.83,214.43 L129.83,214.25 L131.86,214.07 L133.90,213.90 L135.96,213.73 L138.04,213.56 L140.14,213.40 L142.25,213.25 L144.39,213.10 L146.54,212.95 L148.71,212.80 L150.90,212.66 L153.10,212.53 L155.32,212.39 L157.57,212.26 L159.82,212.13 L162.10,212.01 L164.40,211.89 L166.71,211.77 L169.04,211.65 L171.39,211.54 L173.75,211.43 L176.14,211.32 L178.54,211.22 L180.95,211.11 L183.39,211.01 L185.84,210.91 L188.31,210.81 L190.80,210.72 L193.31,210.63 L195.83,210.54 L198.37,210.45 L200.93,210.36 L203.50,210.28 L203.50,333.90 L31.30,333.90 Z" fill="#f5f8f4"/>
<rect x="31.30" y="194.80" width="172.20" height="139.10" fill="none" stroke="#6a6a6a" stroke-width="1.0"/>
<line x1="31.70" y1="333.90" x2="31.70" y2="336.70" stroke="#6a6a6a" stroke-width="1.0" />
<text x="31.30" y="346.60" font-size="9.4" text-anchor="middle" fill="#1a1a1a" stroke="#1a1a1a" stroke-width="0.08" font-weight="normal" >2016</text>
<line x1="69.88" y1="333.90" x2="69.88" y2="336.70" stroke="#6a6a6a" stroke-width="1.0" />
<text x="69.48" y="346.60" font-size="9.4" text-anchor="middle" fill="#1a1a1a" stroke="#1a1a1a" stroke-width="0.08" font-weight="normal" >2018</text>
<line x1="108.06" y1="333.90" x2="108.06" y2="336.70" stroke="#6a6a6a" stroke-width="1.0" />
<text x="107.66" y="346.60" font-size="9.4" text-anchor="middle" fill="#1a1a1a" stroke="#1a1a1a" stroke-width="0.08" font-weight="normal" >2020</text>
<line x1="146.23" y1="333.90" x2="146.23" y2="336.70" stroke="#6a6a6a" stroke-width="1.0" />
<text x="145.83" y="346.60" font-size="9.4" text-anchor="middle" fill="#1a1a1a" stroke="#1a1a1a" stroke-width="0.08" font-weight="normal" >2022</text>
<line x1="184.41" y1="333.90" x2="184.41" y2="336.70" stroke="#6a6a6a" stroke-width="1.0" />
<text x="184.01" y="346.60" font-size="9.4" text-anchor="middle" fill="#1a1a1a" stroke="#1a1a1a" stroke-width="0.08" font-weight="normal" >2024</text>
<line x1="50.79" y1="333.90" x2="50.79" y2="335.50" stroke="#6a6a6a" stroke-width="0.8" />
<line x1="88.97" y1="333.90" x2="88.97" y2="335.50" stroke="#6a6a6a" stroke-width="0.8" />
<line x1="127.14" y1="333.90" x2="127.14" y2="335.50" stroke="#6a6a6a" stroke-width="0.8" />
<line x1="165.32" y1="333.90" x2="165.32" y2="335.50" stroke="#6a6a6a" stroke-width="0.8" />
<line x1="31.30" y1="325.50" x2="28.30" y2="325.50" stroke="#6a6a6a" stroke-width="1.0" />
<text x="25.30" y="328.00" font-size="9.5" text-anchor="end" fill="#1a1a1a" stroke="#1a1a1a" stroke-width="0.08" font-weight="normal" >16</text>
<line x1="31.30" y1="292.82" x2="28.30" y2="292.82" stroke="#6a6a6a" stroke-width="1.0" />
<text x="25.30" y="295.32" font-size="9.5" text-anchor="end" fill="#1a1a1a" stroke="#1a1a1a" stroke-width="0.08" font-weight="normal" >20</text>
<line x1="31.30" y1="260.15" x2="28.30" y2="260.15" stroke="#6a6a6a" stroke-width="1.0" />
<text x="25.30" y="262.65" font-size="9.5" text-anchor="end" fill="#1a1a1a" stroke="#1a1a1a" stroke-width="0.08" font-weight="normal" >24</text>
<line x1="31.30" y1="227.48" x2="28.30" y2="227.48" stroke="#6a6a6a" stroke-width="1.0" />
<text x="25.30" y="229.98" font-size="9.5" text-anchor="end" fill="#1a1a1a" stroke="#1a1a1a" stroke-width="0.08" font-weight="normal" >28</text>
<line x1="31.30" y1="194.80" x2="28.30" y2="194.80" stroke="#6a6a6a" stroke-width="1.0" />
<text x="25.30" y="197.30" font-size="9.5" text-anchor="end" fill="#1a1a1a" stroke="#1a1a1a" stroke-width="0.08" font-weight="normal" >32</text>
<line x1="31.30" y1="309.16" x2="29.70" y2="309.16" stroke="#6a6a6a" stroke-width="0.8" />
<line x1="31.30" y1="276.49" x2="29.70" y2="276.49" stroke="#6a6a6a" stroke-width="0.8" />
<line x1="31.30" y1="243.81" x2="29.70" y2="243.81" stroke="#6a6a6a" stroke-width="0.8" />
<line x1="31.30" y1="211.14" x2="29.70" y2="211.14" stroke="#6a6a6a" stroke-width="0.8" />
<polygon points="69.20,227.20 72.06,228.85 72.06,232.15 69.20,233.80 66.34,232.15 66.34,228.85" fill="#fff" stroke="#a3c6a4" stroke-width="1.0"/>
<path d="M65.84,231.20 L65.84,228.56 L69.20,226.70 L72.56,228.56 L72.56,231.20 Z" fill="#a3c6a4"/>
<polygon points="146.20,218.50 149.06,220.15 149.06,223.45 146.20,225.10 143.34,223.45 143.34,220.15" fill="#fff" stroke="#a3c6a4" stroke-width="1.0"/>
<path d="M142.84,222.50 L142.84,219.86 L146.20,218.00 L149.56,219.86 L149.56,222.50 Z" fill="#a3c6a4"/>
<polygon points="184.50,214.80 187.36,216.45 187.36,219.75 184.50,221.40 181.64,219.75 181.64,216.45" fill="#fff" stroke="#a3c6a4" stroke-width="1.0"/>
<path d="M181.14,218.80 L181.14,216.16 L184.50,214.30 L187.86,216.16 L187.86,218.80 Z" fill="#a3c6a4"/>
<polygon points="88.50,248.60 91.36,250.25 91.36,253.55 88.50,255.20 85.64,253.55 85.64,250.25" fill="#fff" stroke="#a3c6a4" stroke-width="1.0"/>
<path d="M85.14,252.60 L85.14,249.96 L88.50,248.10 L91.86,249.96 L91.86,252.60 Z" fill="#a3c6a4"/>
<polygon points="107.50,258.00 110.36,259.65 110.36,262.95 107.50,264.60 104.64,262.95 104.64,259.65" fill="#fff" stroke="#a3c6a4" stroke-width="1.0"/>
<path d="M104.14,262.00 L104.14,259.36 L107.50,257.50 L110.86,259.36 L110.86,262.00 Z" fill="#a3c6a4"/>
<polygon points="88.50,265.90 91.36,267.55 91.36,270.85 88.50,272.50 85.64,270.85 85.64,267.55" fill="#fff" stroke="#a3c6a4" stroke-width="1.0"/>
<path d="M85.14,269.90 L85.14,267.26 L88.50,265.40 L91.86,267.26 L91.86,269.90 Z" fill="#a3c6a4"/>
<polygon points="184.50,270.00 187.36,271.65 187.36,274.95 184.50,276.60 181.64,274.95 181.64,271.65" fill="#fff" stroke="#a3c6a4" stroke-width="1.0"/>
<path d="M181.14,274.00 L181.14,271.36 L184.50,269.50 L187.86,271.36 L187.86,274.00 Z" fill="#a3c6a4"/>
<polygon points="50.70,318.20 53.56,319.85 53.56,323.15 50.70,324.80 47.84,323.15 47.84,319.85" fill="#fff" stroke="#a3c6a4" stroke-width="1.0"/>
<path d="M47.34,322.20 L47.34,319.56 L50.70,317.70 L54.06,319.56 L54.06,322.20 Z" fill="#a3c6a4"/>
<polygon points="88.50,317.80 91.36,319.45 91.36,322.75 88.50,324.40 85.64,322.75 85.64,319.45" fill="#fff" stroke="#a3c6a4" stroke-width="1.0"/>
<path d="M85.14,321.80 L85.14,319.16 L88.50,317.30 L91.86,319.16 L91.86,321.80 Z" fill="#a3c6a4"/>
<text x="75.40" y="230.65" font-size="9.25" text-anchor="start" fill="#333" stroke="#333" stroke-width="0.08" font-weight="normal" >Ref. 16</text>
<text x="123.60" y="233.15" font-size="9.25" text-anchor="start" fill="#333" stroke="#333" stroke-width="0.08" font-weight="normal" >Ref. 5</text>
<text x="172.20" y="233.15" font-size="9.25" text-anchor="start" fill="#333" stroke="#333" stroke-width="0.08" font-weight="normal" >Ref. 8</text>
<text x="54.00" y="261.55" font-size="9.25" text-anchor="start" fill="#333" stroke="#333" stroke-width="0.08" font-weight="normal" >Ref. 12</text>
<text x="113.30" y="265.65" font-size="9.25" text-anchor="start" fill="#333" stroke="#333" stroke-width="0.08" font-weight="normal" >Ref. 27</text>
<text x="84.40" y="280.85" font-size="9.25" text-anchor="start" fill="#333" stroke="#333" stroke-width="0.08" font-weight="normal" >Ref. 3</text>
<text x="165.20" y="285.55" font-size="9.25" text-anchor="start" fill="#333" stroke="#333" stroke-width="0.08" font-weight="normal" >Ref. 20</text>
<text x="53.50" y="329.85" font-size="9.25" text-anchor="start" fill="#333" stroke="#333" stroke-width="0.08" font-weight="normal" >Ref. 23</text>
<text x="95.10" y="325.75" font-size="9.25" text-anchor="start" fill="#333" stroke="#333" stroke-width="0.08" font-weight="normal" >Ref. 33</text>
<polygon points="184.30,198.70 185.89,202.92 190.39,203.12 186.87,205.93 188.06,210.28 184.30,207.80 180.54,210.28 181.73,205.93 178.21,203.12 182.71,202.92" fill="#66d9b8"/>
<text x="135.60" y="207.90" font-size="9.8" text-anchor="start" fill="#111" stroke="#111" stroke-width="0.08" font-weight="normal" >This work</text>
<text x="117.90" y="358.80" font-size="12.6" text-anchor="middle" fill="#1a1a1a" stroke="#1a1a1a" stroke-width="0.22" font-weight="normal" >Year</text>
<text x="11.20" y="263.60" font-size="12.2" text-anchor="middle" fill="#1a1a1a" stroke="#1a1a1a" stroke-width="0.22" font-weight="normal" transform="rotate(-90 11.2 263.6)">EQE (%)</text>
<path d="M253.00,333.60 L253.00,293.86 L253.08,293.20 L253.25,291.93 L253.48,290.33 L253.76,288.54 L254.09,286.63 L254.46,284.66 L254.87,282.66 L255.32,280.64 L255.80,278.63 L256.31,276.62 L256.86,274.62 L257.43,272.65 L258.04,270.70 L258.67,268.77 L259.34,266.86 L260.03,264.98 L260.74,263.14 L261.48,261.31 L262.25,259.52 L263.04,257.76 L263.85,256.02 L264.69,254.31 L265.56,252.64 L266.44,250.99 L267.35,249.37 L268.28,247.79 L269.23,246.23 L270.20,244.70 L271.19,243.20 L272.21,241.74 L273.24,240.30 L274.30,238.90 L275.37,237.52 L276.47,236.18 L277.58,234.87 L278.71,233.59 L279.86,232.34 L281.04,231.13 L282.23,229.95 L283.43,228.80 L284.66,227.68 L285.90,226.60 L287.17,225.55 L288.45,224.53 L289.74,223.55 L291.06,222.61 L292.39,221.70 L293.74,220.82 L295.11,219.99 L296.49,219.19 L297.89,218.42 L299.31,217.70 L300.74,217.01 L302.19,216.37 L303.66,215.76 L305.14,215.19 L306.64,214.67 L308.15,214.19 L309.68,213.75 L311.22,213.35 L312.78,213.00 L314.36,212.69 L315.95,212.44 L317.56,212.23 L319.18,212.06 L320.81,211.95 L322.47,211.89 L324.13,211.88 L325.81,211.88 L327.51,211.88 L329.22,211.88 L330.94,211.88 L332.68,211.88 L334.44,211.88 L336.21,211.88 L337.99,211.88 L339.78,211.88 L341.59,211.88 L343.42,211.88 L345.26,211.88 L347.11,211.88 L348.97,211.88 L350.85,211.88 L352.75,211.88 L354.65,211.88 L356.57,211.88 L358.51,211.88 L360.46,211.88 L362.42,211.88 L364.39,211.88 L366.38,211.88 L368.38,211.88 L370.39,211.88 L372.42,211.88 L374.45,211.88 L376.51,211.88 L378.57,211.88 L380.65,211.88 L382.74,211.88 L384.84,211.88 L386.96,211.88 L389.09,211.88 L391.23,211.88 L393.38,211.88 L395.55,211.88 L397.73,211.88 L399.92,211.88 L402.12,211.88 L404.33,211.88 L406.56,211.88 L408.80,211.88 L411.05,211.88 L413.32,211.88 L415.59,211.88 L417.88,211.88 L420.18,211.88 L422.49,211.88 L424.82,211.88 L427.15,211.88 L429.50,211.88 L429.50,333.60 L253.00,333.60 Z" fill="#edf0f9"/>
<rect x="253.00" y="194.60" width="176.50" height="139.00" fill="none" stroke="#6a6a6a" stroke-width="1.0"/>
<line x1="253.40" y1="333.60" x2="253.40" y2="336.40" stroke="#6a6a6a" stroke-width="1.0" />
<text x="253.00" y="346.60" font-size="9.4" text-anchor="middle" fill="#1a1a1a" stroke="#1a1a1a" stroke-width="0.08" font-weight="normal" >2016</text>
<line x1="292.53" y1="333.60" x2="292.53" y2="336.40" stroke="#6a6a6a" stroke-width="1.0" />
<text x="292.13" y="346.60" font-size="9.4" text-anchor="middle" fill="#1a1a1a" stroke="#1a1a1a" stroke-width="0.08" font-weight="normal" >2018</text>
<line x1="331.67" y1="333.60" x2="331.67" y2="336.40" stroke="#6a6a6a" stroke-width="1.0" />
<text x="331.27" y="346.60" font-size="9.4" text-anchor="middle" fill="#1a1a1a" stroke="#1a1a1a" stroke-width="0.08" font-weight="normal" >2020</text>
<line x1="370.80" y1="333.60" x2="370.80" y2="336.40" stroke="#6a6a6a" stroke-width="1.0" />
<text x="370.40" y="346.60" font-size="9.4" text-anchor="middle" fill="#1a1a1a" stroke="#1a1a1a" stroke-width="0.08" font-weight="normal" >2022</text>
<line x1="409.93" y1="333.60" x2="409.93" y2="336.40" stroke="#6a6a6a" stroke-width="1.0" />
<text x="409.53" y="346.60" font-size="9.4" text-anchor="middle" fill="#1a1a1a" stroke="#1a1a1a" stroke-width="0.08" font-weight="normal" >2024</text>
<line x1="272.97" y1="333.60" x2="272.97" y2="335.20" stroke="#6a6a6a" stroke-width="0.8" />
<line x1="312.10" y1="333.60" x2="312.10" y2="335.20" stroke="#6a6a6a" stroke-width="0.8" />
<line x1="351.23" y1="333.60" x2="351.23" y2="335.20" stroke="#6a6a6a" stroke-width="0.8" />
<line x1="390.37" y1="333.60" x2="390.37" y2="335.20" stroke="#6a6a6a" stroke-width="0.8" />
<line x1="253.00" y1="319.40" x2="250.00" y2="319.40" stroke="#6a6a6a" stroke-width="1.0" />
<text x="247.00" y="321.90" font-size="9.5" text-anchor="end" fill="#1a1a1a" stroke="#1a1a1a" stroke-width="0.08" font-weight="normal" >0</text>
<line x1="253.00" y1="290.12" x2="250.00" y2="290.12" stroke="#6a6a6a" stroke-width="1.0" />
<text x="247.00" y="292.62" font-size="9.5" text-anchor="end" fill="#1a1a1a" stroke="#1a1a1a" stroke-width="0.08" font-weight="normal" >5</text>
<line x1="253.00" y1="260.85" x2="250.00" y2="260.85" stroke="#6a6a6a" stroke-width="1.0" />
<text x="247.00" y="263.35" font-size="9.5" text-anchor="end" fill="#1a1a1a" stroke="#1a1a1a" stroke-width="0.08" font-weight="normal" >10</text>
<line x1="253.00" y1="231.57" x2="250.00" y2="231.57" stroke="#6a6a6a" stroke-width="1.0" />
<text x="247.00" y="234.07" font-size="9.5" text-anchor="end" fill="#1a1a1a" stroke="#1a1a1a" stroke-width="0.08" font-weight="normal" >15</text>
<line x1="253.00" y1="202.30" x2="250.00" y2="202.30" stroke="#6a6a6a" stroke-width="1.0" />
<text x="247.00" y="204.80" font-size="9.5" text-anchor="end" fill="#1a1a1a" stroke="#1a1a1a" stroke-width="0.08" font-weight="normal" >20</text>
<line x1="253.00" y1="304.76" x2="251.40" y2="304.76" stroke="#6a6a6a" stroke-width="0.8" />
<line x1="253.00" y1="275.49" x2="251.40" y2="275.49" stroke="#6a6a6a" stroke-width="0.8" />
<line x1="253.00" y1="246.21" x2="251.40" y2="246.21" stroke="#6a6a6a" stroke-width="0.8" />
<line x1="253.00" y1="216.94" x2="251.40" y2="216.94" stroke="#6a6a6a" stroke-width="0.8" />
<polygon points="311.30,218.10 314.16,219.75 314.16,223.05 311.30,224.70 308.44,223.05 308.44,219.75" fill="#fff" stroke="#a9bde6" stroke-width="1.0"/>
<path d="M307.94,222.10 L307.94,219.46 L311.30,217.60 L314.66,219.46 L314.66,222.10 Z" fill="#a9bde6"/>
<polygon points="410.10,222.60 412.96,224.25 412.96,227.55 410.10,229.20 407.24,227.55 407.24,224.25" fill="#fff" stroke="#a9bde6" stroke-width="1.0"/>
<path d="M406.74,226.60 L406.74,223.96 L410.10,222.10 L413.46,223.96 L413.46,226.60 Z" fill="#a9bde6"/>
<polygon points="410.10,237.60 412.96,239.25 412.96,242.55 410.10,244.20 407.24,242.55 407.24,239.25" fill="#fff" stroke="#a9bde6" stroke-width="1.0"/>
<path d="M406.74,241.60 L406.74,238.96 L410.10,237.10 L413.46,238.96 L413.46,241.60 Z" fill="#a9bde6"/>
<polygon points="390.20,257.00 393.06,258.65 393.06,261.95 390.20,263.60 387.34,261.95 387.34,258.65" fill="#fff" stroke="#a9bde6" stroke-width="1.0"/>
<path d="M386.84,261.00 L386.84,258.36 L390.20,256.50 L393.56,258.36 L393.56,261.00 Z" fill="#a9bde6"/>
<polygon points="311.30,280.50 314.16,282.15 314.16,285.45 311.30,287.10 308.44,285.45 308.44,282.15" fill="#fff" stroke="#a9bde6" stroke-width="1.0"/>
<path d="M307.94,284.50 L307.94,281.86 L311.30,280.00 L314.66,281.86 L314.66,284.50 Z" fill="#a9bde6"/>
<polygon points="291.90,289.50 294.76,291.15 294.76,294.45 291.90,296.10 289.04,294.45 289.04,291.15" fill="#fff" stroke="#a9bde6" stroke-width="1.0"/>
<path d="M288.54,293.50 L288.54,290.86 L291.90,289.00 L295.26,290.86 L295.26,293.50 Z" fill="#a9bde6"/>
<polygon points="272.40,311.90 275.26,313.55 275.26,316.85 272.40,318.50 269.54,316.85 269.54,313.55" fill="#fff" stroke="#a9bde6" stroke-width="1.0"/>
<path d="M269.04,315.90 L269.04,313.26 L272.40,311.40 L275.76,313.26 L275.76,315.90 Z" fill="#a9bde6"/>
<polygon points="291.90,309.40 294.76,311.05 294.76,314.35 291.90,316.00 289.04,314.35 289.04,311.05" fill="#fff" stroke="#a9bde6" stroke-width="1.0"/>
<path d="M288.54,313.40 L288.54,310.76 L291.90,308.90 L295.26,310.76 L295.26,313.40 Z" fill="#a9bde6"/>
<polygon points="331.30,310.40 334.16,312.05 334.16,315.35 331.30,317.00 328.44,315.35 328.44,312.05" fill="#fff" stroke="#a9bde6" stroke-width="1.0"/>
<path d="M327.94,314.40 L327.94,311.76 L331.30,309.90 L334.66,311.76 L334.66,314.40 Z" fill="#a9bde6"/>
<text x="316.40" y="226.15" font-size="9.25" text-anchor="start" fill="#333" stroke="#333" stroke-width="0.08" font-weight="normal" >Ref. 33</text>
<text x="381.30" y="231.15" font-size="9.25" text-anchor="start" fill="#333" stroke="#333" stroke-width="0.08" font-weight="normal" >Ref. 8</text>
<text x="374.30" y="247.65" font-size="9.25" text-anchor="start" fill="#333" stroke="#333" stroke-width="0.08" font-weight="normal" >Ref. 21</text>
<text x="394.70" y="270.05" font-size="9.25" text-anchor="start" fill="#333" stroke="#333" stroke-width="0.08" font-weight="normal" >Ref. 6</text>
<text x="315.90" y="280.55" font-size="9.25" text-anchor="start" fill="#333" stroke="#333" stroke-width="0.08" font-weight="normal" >Ref. 3</text>
<text x="263.90" y="287.05" font-size="9.25" text-anchor="start" fill="#333" stroke="#333" stroke-width="0.08" font-weight="normal" >Ref. 23</text>
<text x="256.40" y="326.45" font-size="9.25" text-anchor="start" fill="#333" stroke="#333" stroke-width="0.08" font-weight="normal" >Ref. 23</text>
<text x="296.40" y="318.95" font-size="9.25" text-anchor="start" fill="#333" stroke="#333" stroke-width="0.08" font-weight="normal" >Ref. 16</text>
<text x="337.30" y="318.95" font-size="9.25" text-anchor="start" fill="#333" stroke="#333" stroke-width="0.08" font-weight="normal" >Ref. 27</text>
<polygon points="409.75,196.70 411.34,200.92 415.84,201.12 412.32,203.93 413.51,208.28 409.75,205.80 405.99,208.28 407.18,203.93 403.66,201.12 408.16,200.92" fill="#66d9b8"/>
<text x="359.40" y="206.60" font-size="9.8" text-anchor="start" fill="#111" stroke="#111" stroke-width="0.08" font-weight="normal" >This work</text>
<text x="341.75" y="358.80" font-size="12.6" text-anchor="middle" fill="#1a1a1a" stroke="#1a1a1a" stroke-width="0.22" font-weight="normal" >Year</text>
<text x="234.00" y="264.30" font-size="11.8" text-anchor="middle" fill="#1a1a1a" stroke="#1a1a1a" stroke-width="0.22" font-weight="normal" transform="rotate(-90 234 264.3)">Luminance (×10<tspan font-size="7.5" dy="-5.0">5</tspan><tspan dy="5.0"> cd m</tspan><tspan font-size="7.5" dy="-5.0">-2</tspan><tspan dy="5.0">)</tspan></text>
<path d="M480.10,332.84 L480.18,332.52 L480.35,331.89 L480.58,331.04 L480.86,330.04 L481.19,328.91 L481.56,327.69 L481.97,326.38 L482.41,325.02 L482.89,323.61 L483.41,322.16 L483.95,320.68 L484.53,319.17 L485.13,317.65 L485.77,316.12 L486.43,314.58 L487.12,313.03 L487.83,311.48 L488.57,309.93 L489.34,308.38 L490.13,306.84 L490.94,305.29 L491.78,303.76 L492.64,302.23 L493.52,300.71 L494.43,299.19 L495.36,297.69 L496.31,296.19 L497.28,294.71 L498.27,293.23 L499.28,291.76 L500.32,290.31 L501.37,288.87 L502.45,287.43 L503.54,286.01 L504.65,284.60 L505.78,283.21 L506.93,281.82 L508.10,280.45 L509.29,279.09 L510.50,277.74 L511.72,276.41 L512.97,275.08 L514.23,273.78 L515.51,272.48 L516.80,271.20 L518.12,269.93 L519.45,268.67 L520.80,267.42 L522.16,266.19 L523.54,264.98 L524.94,263.77 L526.36,262.59 L527.79,261.41 L529.24,260.25 L530.70,259.10 L532.18,257.96 L533.67,256.84 L535.19,255.74 L536.71,254.65 L538.26,253.57 L539.82,252.51 L541.39,251.46 L542.98,250.42 L544.58,249.40 L546.20,248.40 L547.84,247.41 L549.49,246.43 L551.15,245.47 L552.83,244.53 L554.53,243.60 L556.23,242.68 L557.96,241.78 L559.69,240.90 L561.45,240.03 L563.21,239.17 L564.99,238.34 L566.79,237.52 L568.59,236.71 L570.42,235.92 L572.25,235.15 L574.10,234.39 L575.97,233.65 L577.84,232.93 L579.73,232.22 L581.64,231.53 L583.56,230.86 L585.49,230.20 L587.43,229.56 L589.39,228.94 L591.36,228.34 L593.35,227.76 L595.35,227.19 L597.36,226.64 L599.38,226.11 L601.42,225.60 L603.47,225.10 L605.53,224.63 L607.60,224.17 L609.69,223.73 L611.79,223.32 L613.91,222.92 L616.03,222.54 L618.17,222.19 L620.32,221.85 L622.49,221.53 L624.66,221.24 L626.85,220.96 L629.05,220.71 L631.26,220.48 L633.49,220.27 L635.72,220.08 L637.97,219.91 L640.24,219.77 L642.51,219.65 L644.79,219.56 L647.09,219.48 L649.40,219.44 L651.72,219.41 L654.06,219.41 L656.40,219.41 L656.40,333.80 L480.10,333.80 Z" fill="#fdfaf2"/>
<rect x="480.10" y="194.60" width="176.30" height="139.20" fill="none" stroke="#6a6a6a" stroke-width="1.0"/>
<line x1="480.50" y1="333.80" x2="480.50" y2="336.60" stroke="#6a6a6a" stroke-width="1.0" />
<text x="480.10" y="346.60" font-size="9.4" text-anchor="middle" fill="#1a1a1a" stroke="#1a1a1a" stroke-width="0.08" font-weight="normal" >2016</text>
<line x1="519.59" y1="333.80" x2="519.59" y2="336.60" stroke="#6a6a6a" stroke-width="1.0" />
<text x="519.19" y="346.60" font-size="9.4" text-anchor="middle" fill="#1a1a1a" stroke="#1a1a1a" stroke-width="0.08" font-weight="normal" >2018</text>
<line x1="558.68" y1="333.80" x2="558.68" y2="336.60" stroke="#6a6a6a" stroke-width="1.0" />
<text x="558.28" y="346.60" font-size="9.4" text-anchor="middle" fill="#1a1a1a" stroke="#1a1a1a" stroke-width="0.08" font-weight="normal" >2020</text>
<line x1="597.77" y1="333.80" x2="597.77" y2="336.60" stroke="#6a6a6a" stroke-width="1.0" />
<text x="597.37" y="346.60" font-size="9.4" text-anchor="middle" fill="#1a1a1a" stroke="#1a1a1a" stroke-width="0.08" font-weight="normal" >2022</text>
<line x1="636.86" y1="333.80" x2="636.86" y2="336.60" stroke="#6a6a6a" stroke-width="1.0" />
<text x="636.46" y="346.60" font-size="9.4" text-anchor="middle" fill="#1a1a1a" stroke="#1a1a1a" stroke-width="0.08" font-weight="normal" >2024</text>
<line x1="500.04" y1="333.80" x2="500.04" y2="335.40" stroke="#6a6a6a" stroke-width="0.8" />
<line x1="539.13" y1="333.80" x2="539.13" y2="335.40" stroke="#6a6a6a" stroke-width="0.8" />
<line x1="578.22" y1="333.80" x2="578.22" y2="335.40" stroke="#6a6a6a" stroke-width="0.8" />
<line x1="617.31" y1="333.80" x2="617.31" y2="335.40" stroke="#6a6a6a" stroke-width="0.8" />
<line x1="480.10" y1="306.10" x2="477.10" y2="306.10" stroke="#6a6a6a" stroke-width="1.0" />
<text x="474.10" y="308.60" font-size="9.5" text-anchor="end" fill="#1a1a1a" stroke="#1a1a1a" stroke-width="0.08" font-weight="normal" >0</text>
<line x1="480.10" y1="268.75" x2="477.10" y2="268.75" stroke="#6a6a6a" stroke-width="1.0" />
<text x="474.10" y="271.25" font-size="9.5" text-anchor="end" fill="#1a1a1a" stroke="#1a1a1a" stroke-width="0.08" font-weight="normal" >8</text>
<line x1="480.10" y1="231.40" x2="477.10" y2="231.40" stroke="#6a6a6a" stroke-width="1.0" />
<text x="474.10" y="233.90" font-size="9.5" text-anchor="end" fill="#1a1a1a" stroke="#1a1a1a" stroke-width="0.08" font-weight="normal" >16</text>
<line x1="480.10" y1="194.05" x2="477.10" y2="194.05" stroke="#6a6a6a" stroke-width="1.0" />
<text x="474.10" y="196.55" font-size="9.5" text-anchor="end" fill="#1a1a1a" stroke="#1a1a1a" stroke-width="0.08" font-weight="normal" >24</text>
<line x1="480.10" y1="324.78" x2="478.50" y2="324.78" stroke="#6a6a6a" stroke-width="0.8" />
<line x1="480.10" y1="287.43" x2="478.50" y2="287.43" stroke="#6a6a6a" stroke-width="0.8" />
<line x1="480.10" y1="250.08" x2="478.50" y2="250.08" stroke="#6a6a6a" stroke-width="0.8" />
<line x1="480.10" y1="212.72" x2="478.50" y2="212.72" stroke="#6a6a6a" stroke-width="0.8" />
<polygon points="636.90,220.60 639.76,222.25 639.76,225.55 636.90,227.20 634.04,225.55 634.04,222.25" fill="#fff" stroke="#edd196" stroke-width="1.0"/>
<path d="M633.54,224.60 L633.54,221.96 L636.90,220.10 L640.26,221.96 L640.26,224.60 Z" fill="#edd196"/>
<polygon points="617.40,239.30 620.26,240.95 620.26,244.25 617.40,245.90 614.54,244.25 614.54,240.95" fill="#fff" stroke="#edd196" stroke-width="1.0"/>
<path d="M614.04,243.30 L614.04,240.66 L617.40,238.80 L620.76,240.66 L620.76,243.30 Z" fill="#edd196"/>
<polygon points="597.50,270.10 600.36,271.75 600.36,275.05 597.50,276.70 594.64,275.05 594.64,271.75" fill="#fff" stroke="#edd196" stroke-width="1.0"/>
<path d="M594.14,274.10 L594.14,271.46 L597.50,269.60 L600.86,271.46 L600.86,274.10 Z" fill="#edd196"/>
<polygon points="539.00,284.50 541.86,286.15 541.86,289.45 539.00,291.10 536.14,289.45 536.14,286.15" fill="#fff" stroke="#edd196" stroke-width="1.0"/>
<path d="M535.64,288.50 L535.64,285.86 L539.00,284.00 L542.36,285.86 L542.36,288.50 Z" fill="#edd196"/>
<polygon points="558.50,291.60 561.36,293.25 561.36,296.55 558.50,298.20 555.64,296.55 555.64,293.25" fill="#fff" stroke="#edd196" stroke-width="1.0"/>
<path d="M555.14,295.60 L555.14,292.96 L558.50,291.10 L561.86,292.96 L561.86,295.60 Z" fill="#edd196"/>
<polygon points="499.20,302.90 502.06,304.55 502.06,307.85 499.20,309.50 496.34,307.85 496.34,304.55" fill="#fff" stroke="#edd196" stroke-width="1.0"/>
<path d="M495.84,306.90 L495.84,304.26 L499.20,302.40 L502.56,304.26 L502.56,306.90 Z" fill="#edd196"/>
<polygon points="519.10,302.90 521.96,304.55 521.96,307.85 519.10,309.50 516.24,307.85 516.24,304.55" fill="#fff" stroke="#edd196" stroke-width="1.0"/>
<path d="M515.74,306.90 L515.74,304.26 L519.10,302.40 L522.46,304.26 L522.46,306.90 Z" fill="#edd196"/>
<text x="601.80" y="232.95" font-size="9.25" text-anchor="start" fill="#333" stroke="#333" stroke-width="0.08" font-weight="normal" >Ref. 20</text>
<text x="621.30" y="252.45" font-size="9.25" text-anchor="start" fill="#333" stroke="#333" stroke-width="0.08" font-weight="normal" >Ref. 6</text>
<text x="602.60" y="280.95" font-size="9.25" text-anchor="start" fill="#333" stroke="#333" stroke-width="0.08" font-weight="normal" >Ref. 5</text>
<text x="514.80" y="282.85" font-size="9.25" text-anchor="start" fill="#333" stroke="#333" stroke-width="0.08" font-weight="normal" >Ref. 3</text>
<text x="562.80" y="300.45" font-size="9.25" text-anchor="start" fill="#333" stroke="#333" stroke-width="0.08" font-weight="normal" >Ref. 27</text>
<text x="485.60" y="318.35" font-size="9.25" text-anchor="start" fill="#333" stroke="#333" stroke-width="0.08" font-weight="normal" >Ref. 23</text>
<text x="527.70" y="315.25" font-size="9.25" text-anchor="start" fill="#333" stroke="#333" stroke-width="0.08" font-weight="normal" >Ref. 16</text>
<polygon points="636.75,197.70 638.34,201.92 642.84,202.12 639.32,204.93 640.51,209.28 636.75,206.80 632.99,209.28 634.18,204.93 630.66,202.12 635.16,201.92" fill="#66d9b8"/>
<text x="584.70" y="207.00" font-size="9.8" text-anchor="start" fill="#111" stroke="#111" stroke-width="0.08" font-weight="normal" >This work</text>
<text x="568.75" y="358.80" font-size="12.6" text-anchor="middle" fill="#1a1a1a" stroke="#1a1a1a" stroke-width="0.22" font-weight="normal" >Year</text>
<text x="461.50" y="270.90" font-size="11.8" text-anchor="middle" fill="#1a1a1a" stroke="#1a1a1a" stroke-width="0.22" font-weight="normal" transform="rotate(-90 461.5 270.9)">T<tspan font-size="7.5" dy="2.5">95</tspan><tspan dy="-2.5">@1000 cd m</tspan><tspan font-size="7.5" dy="-5.0">-2</tspan><tspan dy="5.0"> (×10</tspan><tspan font-size="7.5" dy="-5.0">3</tspan><tspan dy="5.0"> h)</tspan></text>
<text x="-1.20" y="15.30" font-size="20.5" text-anchor="start" fill="#000" stroke="#000" stroke-width="0" font-weight="bold" >a</text>
<text x="223.90" y="15.50" font-size="20.5" text-anchor="start" fill="#000" stroke="#000" stroke-width="0" font-weight="bold" >b</text>
<text x="451.20" y="15.60" font-size="20.5" text-anchor="start" fill="#000" stroke="#000" stroke-width="0" font-weight="bold" >c</text>
<text x="-0.40" y="196.40" font-size="20.5" text-anchor="start" fill="#000" stroke="#000" stroke-width="0" font-weight="bold" >d</text>
<text x="224.40" y="196.20" font-size="20.5" text-anchor="start" fill="#000" stroke="#000" stroke-width="0" font-weight="bold" >e</text>
<text x="451.20" y="196.30" font-size="20.5" text-anchor="start" fill="#000" stroke="#000" stroke-width="0" font-weight="bold" >f</text>
</svg></body></html>
